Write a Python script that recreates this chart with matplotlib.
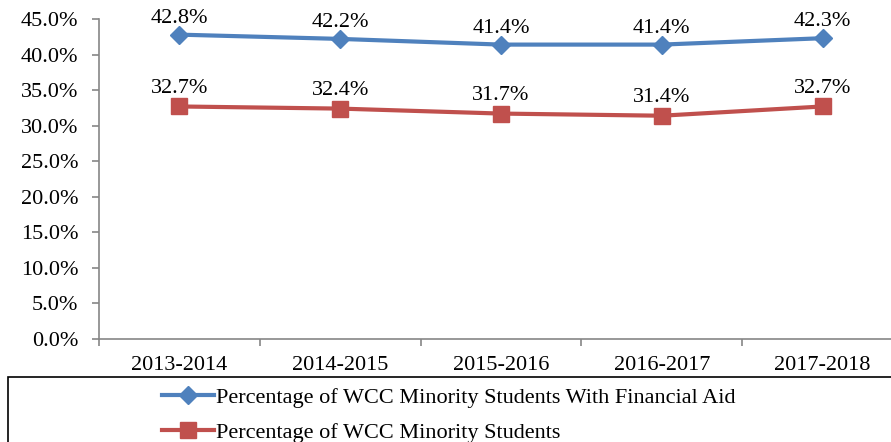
import matplotlib
matplotlib.use("Agg")
from matplotlib import pyplot as plt
from matplotlib.patches import Rectangle
from matplotlib.ticker import FixedLocator, FuncFormatter

years = ["2013-2014", "2014-2015", "2015-2016", "2016-2017", "2017-2018"]
with_aid = [42.8, 42.2, 41.4, 41.4, 42.3]
minority = [32.7, 32.4, 31.7, 31.4, 32.7]

blue = "#4F81BD"
red = "#C0504D"
axis_grey = "#868686"

plt.rcParams["font.family"] = ["Liberation Serif", "DejaVu Serif"]

fig = plt.figure(figsize=(8.91, 4.42), dpi=100)
W, H = 891, 442
ax = fig.add_axes([99 / W, (H - 339) / H, 804 / W, 320 / H])

x = list(range(len(years)))
ax.plot(x, with_aid, color=blue, lw=3, marker="D", ms=9.5, clip_on=False,
        label="Percentage of WCC Minority Students With Financial Aid")
ax.plot(x, minority, color=red, lw=3, marker="s", ms=11.5, clip_on=False,
        label="Percentage of WCC Minority Students")

for xi, v in zip(x, with_aid):
    ax.annotate(f"{v:.1f}%", (xi, v), xytext=(0, 5), textcoords="offset points",
                ha="center", va="bottom", fontsize=16)
for xi, v in zip(x, minority):
    ax.annotate(f"{v:.1f}%", (xi, v), xytext=(0, 6), textcoords="offset points",
                ha="center", va="bottom", fontsize=16)

ax.set_xlim(-0.5, len(years) - 0.5)
ax.set_ylim(0, 45)
ax.yaxis.set_major_locator(FixedLocator([i * 5 for i in range(10)]))
ax.yaxis.set_major_formatter(FuncFormatter(lambda v, p: f"{v:.1f}%"))
ax.set_xticks(x)
ax.set_xticklabels(years)
ax.xaxis.set_minor_locator(FixedLocator([i - 0.5 for i in range(len(years) + 1)]))

for side in ["top", "right"]:
    ax.spines[side].set_visible(False)
for side in ["left", "bottom"]:
    ax.spines[side].set_color(axis_grey)
    ax.spines[side].set_linewidth(1.2)

ax.tick_params(axis="y", length=5, width=1.2, color=axis_grey, pad=10, labelsize=16)
ax.tick_params(axis="x", which="major", length=0, pad=12, labelsize=16)
ax.tick_params(axis="x", which="minor", length=5, width=1.2, color=axis_grey)

# legend box sits under the axis, running off the right edge
fig.patches.append(Rectangle((8 / W, -0.1), 1.0, (H - 377) / H + 0.1,
                             transform=fig.transFigure, fill=False,
                             edgecolor="black", lw=1.2))
fig.legend(loc="upper left", bbox_to_anchor=(158 / W, (H - 383) / H),
           frameon=False, fontsize=16, handlelength=2.3, handletextpad=0.1,
           labelspacing=0.65, borderaxespad=0, borderpad=0.2)

fig.savefig("out.png", dpi=100)
